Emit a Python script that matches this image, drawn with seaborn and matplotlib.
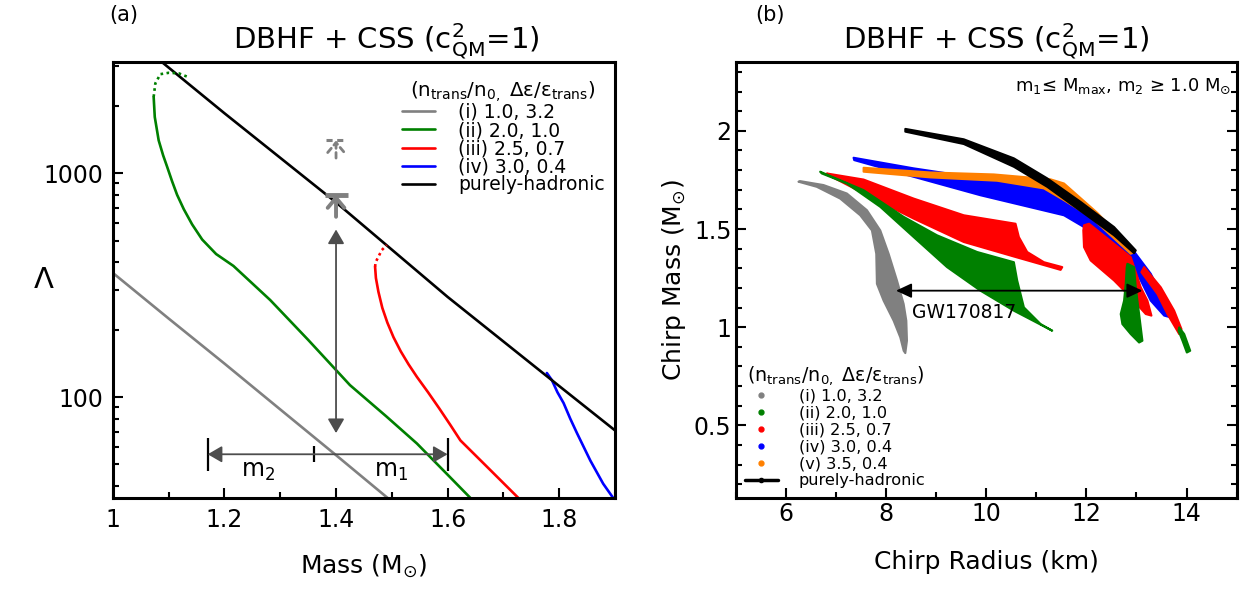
import numpy as np
import pandas as pd
import seaborn as sns
import matplotlib
matplotlib.use("Agg")
import matplotlib.pyplot as plt
from matplotlib.lines import Line2D
from matplotlib.ticker import MultipleLocator, LogLocator, NullFormatter

# ---------------- panel (a): tidal deformability vs mass ----------------
m_gray = [1.0, 1.1, 1.2, 1.3, 1.4, 1.495]
lam_gray = [358, 224, 141, 88, 55, 35]

m_green = [1.073, 1.075, 1.082, 1.09, 1.097, 1.106, 1.115, 1.127, 1.142, 1.16, 1.185, 1.216,
           1.245, 1.282, 1.35, 1.425, 1.49, 1.545, 1.6, 1.641]
lam_green = [2190, 1780, 1400, 1200, 1070, 920, 800, 690, 590, 505, 435, 385,
             330, 271, 180, 113, 82, 62, 45, 35.4]
m_green_dot = [1.073, 1.076, 1.085, 1.10, 1.118, 1.134]
lam_green_dot = [2190, 2515, 2766, 2805, 2790, 2690]

m_red = [1.470, 1.4715, 1.476, 1.483, 1.492, 1.503, 1.516, 1.53, 1.545, 1.565, 1.585,
         1.605, 1.623, 1.67, 1.727]
lam_red = [382, 340, 295, 250, 215, 185, 160, 140, 123, 105, 89, 75, 64, 49, 35.4]
m_red_dot = [1.470, 1.471, 1.476, 1.482, 1.491]
lam_red_dot = [382, 400, 423, 453, 477]

m_blue = [1.778, 1.787, 1.797, 1.808, 1.82, 1.832, 1.856, 1.879, 1.897]
lam_blue = [128, 119, 105, 94, 80, 69, 52, 41, 35.4]

m_had = [1.09, 1.2, 1.4, 1.6, 1.8, 1.9]
lam_had = [3100, 1850, 740, 280, 112, 71]

labels_a = ["(i) 1.0, 3.2", "(ii) 2.0, 1.0", "(iii) 2.5, 0.7", "(iv) 3.0, 0.4", "purely-hadronic"]

# GW170817 constraints on Lambda(1.4)
m_ref = 1.4
lam_limits = [800, 1400]
lam_limit_stems = [638, 1167]
lam_arrow = [560, 69]
m_bounds = [1.17, 1.36, 1.60]
lam_mbar = 55.5

# ---------------- panel (b): chirp mass vs chirp radius ----------------
gray_R = [6.253, 6.619, 7.086, 7.486, 7.719, 7.806, 7.819, 7.953, 8.153, 8.286, 8.353, 8.386,
          8.419, 8.406, 8.353, 8.219, 8.053, 7.886, 7.619, 7.219, 6.753, 6.286]
gray_M = [1.741, 1.715, 1.655, 1.570, 1.493, 1.374, 1.221, 1.135, 1.033, 0.948, 0.880, 0.868,
          0.931, 1.033, 1.118, 1.238, 1.374, 1.493, 1.596, 1.681, 1.724, 1.744]

green_R = [6.686, 7.553, 8.353, 9.019, 9.819, 10.553, 10.619, 10.753, 11.086, 11.319,
           10.553, 9.886, 9.219, 8.553, 7.886, 7.219, 6.719]
green_M = [1.792, 1.698, 1.562, 1.468, 1.383, 1.331, 1.238, 1.101, 1.016, 0.982,
           1.084, 1.186, 1.306, 1.459, 1.613, 1.732, 1.783]
green2_R = [12.819, 12.953, 12.986, 13.053, 13.119, 13.053, 12.886, 12.719, 12.686, 12.753, 12.786, 12.806]
green2_M = [1.323, 1.306, 1.203, 1.067, 0.931, 0.922, 0.965, 1.016, 1.067, 1.135, 1.221, 1.306]
green3_R = [13.853, 13.953, 14.073, 14.006, 13.919, 13.839]
green3_M = [0.999, 0.965, 0.880, 0.871, 0.931, 0.982]

red_R = [6.819, 7.553, 8.553, 9.553, 10.586, 10.653, 10.819, 11.153, 11.519,
         11.486, 10.553, 9.553, 8.553, 7.886, 6.886]
red_M = [1.783, 1.752, 1.655, 1.570, 1.527, 1.459, 1.383, 1.331, 1.306,
         1.292, 1.360, 1.434, 1.553, 1.638, 1.770]
red2_R = [11.953, 12.053, 12.219, 12.553, 12.886, 13.086, 13.219, 13.299,
          13.186, 12.886, 12.553, 12.086, 11.953, 11.939]
red2_M = [1.519, 1.527, 1.493, 1.425, 1.357, 1.203, 1.135, 1.059,
          1.067, 1.152, 1.238, 1.340, 1.408, 1.493]
red3_R = [13.153, 13.486, 13.753, 13.899, 13.853, 13.619, 13.419, 13.099]
red3_M = [1.306, 1.203, 1.084, 0.990, 0.965, 1.067, 1.169, 1.280]

blue_R = [7.353, 8.553, 9.886, 11.153, 11.886, 12.219, 12.886, 13.286, 13.619, 13.686,
          13.553, 13.286, 13.086, 12.886, 12.553, 11.953, 11.553, 9.886, 8.553, 7.366]
blue_M = [1.863, 1.809, 1.758, 1.724, 1.613, 1.562, 1.408, 1.272, 1.101, 1.050,
          1.059, 1.135, 1.238, 1.340, 1.425, 1.510, 1.570, 1.672, 1.766, 1.851]

orange_R = [7.553, 8.886, 10.153, 11.286, 11.553, 12.219, 12.553, 12.953,
            12.886, 12.086, 11.553, 11.153, 10.219, 8.886, 7.553]
orange_M = [1.812, 1.788, 1.778, 1.753, 1.732, 1.582, 1.493, 1.383,
            1.374, 1.562, 1.647, 1.707, 1.746, 1.763, 1.792]

had_R = [8.386, 9.553, 10.553, 11.219, 11.886, 12.553, 12.986,
         12.953, 12.553, 11.886, 11.219, 10.553, 9.553, 8.386]
had_M = [2.010, 1.957, 1.860, 1.758, 1.638, 1.510, 1.391,
         1.377, 1.468, 1.592, 1.715, 1.817, 1.933, 1.996]

labels_b = ["(i) 1.0, 3.2", "(ii) 2.0, 1.0", "(iii) 2.5, 0.7", "(iv) 3.0, 0.4", "(v) 3.5, 0.4", "purely-hadronic"]

gw_chirp_mass = 1.186
gw_R_range = [8.2, 13.12]

c_gray, c_green, c_red, c_blue, c_orange = "#808080", "#008000", "#ff0000", "#0000ff", "#ff8000"

sns.set_style("ticks")
plt.rcParams["font.family"] = ["DejaVu Sans"]
plt.rcParams["mathtext.fontset"] = "dejavusans"
plt.rcParams.update({"text.color": "black", "axes.labelcolor": "black", "axes.edgecolor": "black",
                     "xtick.color": "black", "ytick.color": "black"})

fig = plt.figure(figsize=(12.48, 5.89), dpi=100)
ax1 = fig.add_axes([0.0905, 0.1545, 0.4022, 0.740])
ax2 = fig.add_axes([0.5895, 0.1545, 0.4014, 0.740])

title = r"DBHF + CSS (c$^2_\mathrm{QM}$=1)"
leg_title = r"(n$_\mathrm{trans}$/n$_\mathrm{0,}$ Δε/ε$_\mathrm{trans}$)"

# ---------- (a) ----------
lw = 1.9
for m, lam, c, lab in [(m_gray, lam_gray, c_gray, labels_a[0]),
                       (m_green, lam_green, c_green, labels_a[1]),
                       (m_red, lam_red, c_red, labels_a[2]),
                       (m_blue, lam_blue, c_blue, labels_a[3]),
                       (m_had, lam_had, "black", labels_a[4])]:
    sns.lineplot(x=m, y=lam, ax=ax1, color=c, lw=lw, sort=False, estimator=None, label=lab)
sns.lineplot(x=m_green_dot, y=lam_green_dot, ax=ax1, color=c_green, lw=lw, ls=(0, (1, 1.3)),
             sort=False, estimator=None)
sns.lineplot(x=m_red_dot, y=lam_red_dot, ax=ax1, color=c_red, lw=lw, ls=(0, (1, 1.3)),
             sort=False, estimator=None)

ax1.set_yscale("log")
ax1.set_xlim(1, 1.9)
ax1.set_ylim(35.4, 3130)

# upper limits on Lambda_1.4 (solid: 800, dashed: 1400)
chevron = "->,head_length=0.36,head_width=0.3"
ax1.hlines(lam_limits[0], m_ref - 0.02, m_ref + 0.021, color=c_gray, lw=3.5)
ax1.annotate("", xy=(m_ref, lam_limits[0]), xytext=(m_ref, lam_limit_stems[0]),
             arrowprops=dict(arrowstyle=chevron, color=c_gray, lw=2.8,
                             shrinkA=0, shrinkB=0, mutation_scale=20))
ax1.hlines(lam_limits[1], m_ref - 0.018, m_ref + 0.018, color=c_gray, lw=2.2, ls=(0, (2, 1.5)))
ax1.annotate("", xy=(m_ref, lam_limits[1]), xytext=(m_ref, lam_limit_stems[1]),
             arrowprops=dict(arrowstyle=chevron, color=c_gray, lw=2.0, ls=(0, (2, 1.5)),
                             shrinkA=0, shrinkB=0, mutation_scale=20))

# vertical double arrow
head = "head_length=0.43,head_width=0.25"
ax1.annotate("", xy=(m_ref, lam_arrow[0]), xytext=(m_ref, lam_arrow[1]),
             arrowprops=dict(arrowstyle="<|-|>," + head, color="0.3",
                             lw=1.3, shrinkA=0, shrinkB=0, mutation_scale=20))
# m2 / m1 ranges
for a, b in [(m_bounds[0], m_bounds[1]), (m_bounds[2], m_bounds[1])]:
    ax1.annotate("", xy=(a, lam_mbar), xytext=(b, lam_mbar),
                 arrowprops=dict(arrowstyle="-|>," + head, color="0.3",
                                 lw=1.3, shrinkA=0, shrinkB=0, mutation_scale=20))
ax1.vlines([m_bounds[0], m_bounds[2]], 46.6, 65.8, color="black", lw=1.6)
ax1.vlines(m_bounds[1], 51, 60.5, color="black", lw=1.6)
ax1.text(1.26, 46.5, r"m$_2$", fontsize=17, ha="center", va="center")
ax1.text(1.499, 46.5, r"m$_1$", fontsize=17, ha="center", va="center")

ax1.set_xticks([1, 1.2, 1.4, 1.6, 1.8], labels=["1", "1.2", "1.4", "1.6", "1.8"])
ax1.xaxis.set_minor_locator(MultipleLocator(0.1))
ax1.set_yticks([100, 1000], labels=["100", "1000"])
ax1.yaxis.set_minor_locator(LogLocator(base=10, subs=np.arange(2, 10)))
ax1.yaxis.set_minor_formatter(NullFormatter())
ax1.set_xlabel(r"Mass (M$_{\odot}$)", fontsize=18, labelpad=15)
ax1.set_ylabel("Λ", fontsize=21, rotation=0, labelpad=0, va="center")
ax1.set_title(title, fontsize=21, pad=9, x=0.544)

ax1.legend(loc="upper right", bbox_to_anchor=(1.0, 0.985), frameon=False, fontsize=13.5,
           title=leg_title, title_fontsize=14.3, handlelength=1.8, handletextpad=1.2,
           labelspacing=-0.05, borderaxespad=0.15)

# ---------- (b) ----------
band_kw = dict(lw=1.5, joinstyle="round")
ax2.fill(blue_R, blue_M, color=c_blue, **band_kw)
ax2.fill(orange_R, orange_M, color=c_orange, **band_kw)
ax2.fill(had_R, had_M, color="black", **band_kw)
for R, M in [(red_R, red_M), (red2_R, red2_M), (red3_R, red3_M)]:
    ax2.fill(R, M, color=c_red, **band_kw)
for R, M in [(green_R, green_M), (green2_R, green2_M), (green3_R, green3_M)]:
    ax2.fill(R, M, color=c_green, **band_kw)
ax2.fill(gray_R, gray_M, color=c_gray, **band_kw)

ax2.annotate("", xy=(gw_R_range[0], gw_chirp_mass), xytext=(gw_R_range[1], gw_chirp_mass),
             arrowprops=dict(arrowstyle="<|-|>,head_length=0.47,head_width=0.22", color="black",
                             lw=1.3, shrinkA=0, shrinkB=0, mutation_scale=20))
ax2.text(8.52, 1.076, "GW170817", fontsize=13.5, ha="left", va="center")
ax2.text(14.89, 2.227, r"m$_1$≤ M$_\mathrm{max}$, m$_2$ ≥ 1.0 M$_{\odot}$", fontsize=13,
         ha="right", va="center")

ax2.set_xlim(5, 15)
ax2.set_ylim(0.13, 2.35)
ax2.set_xticks([6, 8, 10, 12, 14])
ax2.xaxis.set_minor_locator(MultipleLocator(1))
ax2.set_yticks([0.5, 1, 1.5, 2], labels=["0.5", "1", "1.5", "2"])
ax2.yaxis.set_minor_locator(MultipleLocator(0.1))
ax2.set_xlabel("Chirp Radius (km)", fontsize=18, labelpad=17)
ax2.set_ylabel(r"Chirp Mass (M$_{\odot}$)", fontsize=18, labelpad=4)
ax2.set_title(title, fontsize=21, pad=9, x=0.52)

handles_b = [Line2D([], [], ls="none", marker="o", ms=3.5, color=c) for c in
             [c_gray, c_green, c_red, c_blue, c_orange]]
handles_b.append(Line2D([], [], color="black", lw=2.5, marker="o", ms=3))
ax2.legend(handles_b, labels_b, loc="lower left", bbox_to_anchor=(0.0, 0.0), frameon=False,
           fontsize=11.6, title=leg_title, title_fontsize=13.7, handlelength=2.0,
           handletextpad=1.3, labelspacing=0.12, borderaxespad=0.2)

for ax in (ax1, ax2):
    for s in ax.spines.values():
        s.set_linewidth(2.2)
    ax.tick_params(which="both", direction="in", width=1.5, labelsize=17)
    ax.tick_params(which="major", length=7)
    ax.tick_params(which="minor", length=4)
ax1.tick_params(which="both", pad=7)
ax2.tick_params(which="both", pad=3, right=True)

fig.text(0.099, 0.974, "(a)", fontsize=15, ha="center", va="center")
fig.text(0.617, 0.974, "(b)", fontsize=15, ha="center", va="center")

fig.savefig("out.png", dpi=100)
